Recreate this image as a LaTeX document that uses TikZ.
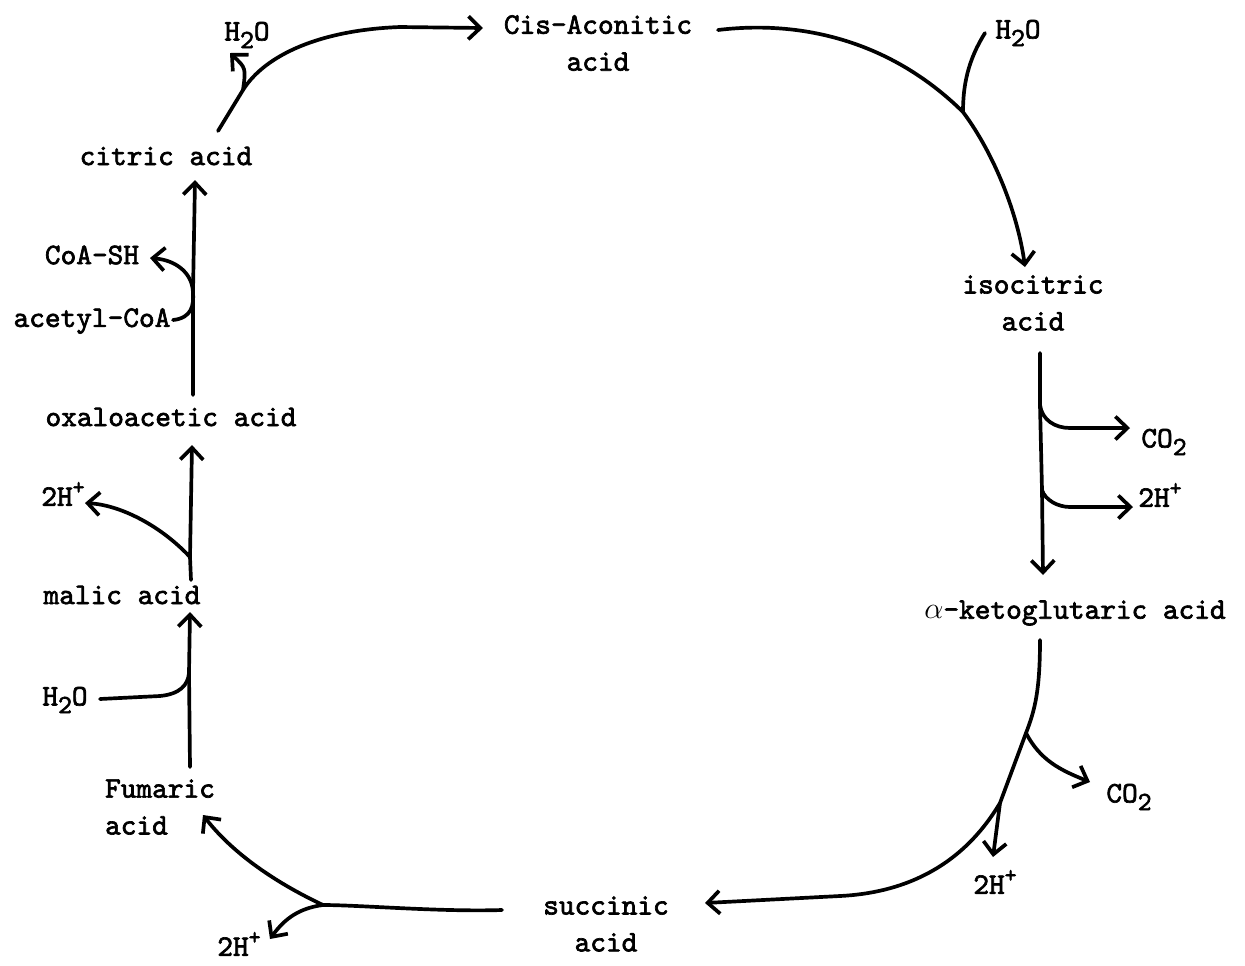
\documentclass[tikz,border=0pt]{standalone}
\usepackage{fontspec}
\usepackage{tikz}
\usetikzlibrary{arrows.meta,calc}
\newfontfamily\chemtt{lmmono10-regular.otf}[FakeBold=2.2]
\newcommand{\chemfont}{\fontsize{17}{21}\selectfont\chemtt}
\newcommand{\lowtwo}{\raisebox{-0.6ex}{\fontsize{15}{15}\selectfont 2}}
\newcommand{\hiplus}{\raisebox{0.9ex}{\fontsize{13}{13}\selectfont +}}

\begin{document}
\begin{tikzpicture}[
    x=0.02cm, y=-0.02cm,
    metab/.style={font=\chemfont, align=center, inner sep=1pt},
    sidemol/.style={font=\chemfont, inner sep=1pt},
    flow/.style={line width=2.1pt, line cap=round, -{Straight Barb[length=2.4mm,width=4.6mm]}},
    joinline/.style={line width=2.1pt, line cap=round}
]
\useasboundingbox (0,0) rectangle (1245,965);
% metabolites
\node[metab] (cis) at (598,43) {Cis-Aconitic\\acid};
\node[metab] (citric) at (166,156) {citric acid};
\node[metab] (iso) at (1033,303) {isocitric\\acid};
\node[metab] (keto) at (1075,613) {$\alpha$-ketoglutaric acid};
\node[metab] (succ) at (606,924) {succinic\\acid};
\node[metab, align=left] (fum) at (160,807) {Fumaric\\acid};
\node[metab] (malic) at (122,595) {malic acid};
\node[metab] (oxalo) at (171,417) {oxaloacetic acid};
% side molecules
\node[sidemol] (wat1) at (247,35) {H\lowtwo O};
\node[sidemol] (wat2) at (1018,33) {H\lowtwo O};
\node[sidemol] (co2a) at (1164,442) {CO\lowtwo};
\node[sidemol] (hpa) at (1160,495) {2H\hiplus};
\node[sidemol] (co2b) at (1129,797) {CO\lowtwo};
\node[sidemol] (hpb) at (995,882) {2H\hiplus};
\node[sidemol] (hpc) at (239,944) {2H\hiplus};
\node[sidemol] (wat3) at (65,700) {H\lowtwo O};
\node[sidemol] (hpd) at (63,494) {2H\hiplus};
\node[sidemol] (coash) at (92,255) {CoA-SH};
\node[sidemol] (acetyl) at (92,321) {acetyl-CoA};
% branch points
\coordinate (j1) at (243,90);
\coordinate (j2) at (963,112);
\coordinate (j3) at (1040,405);
\coordinate (j4) at (1042,490);
\coordinate (j5) at (1026,733);
\coordinate (j6) at (1000,803);
\coordinate (j7) at (323,905);
\coordinate (j8) at (189,673);
\coordinate (j9) at (190,557);
\coordinate (j10) at (193,292);
% citric -> cis-aconitic
\draw[flow] ($(citric)+(52,-25)$) .. controls (230,110) .. (j1) .. controls (265,55) and (320,30) .. (400,27) -- ($(cis)+(-115,-15)$);
\draw[flow] (j1) .. controls (246,68) .. ($(wat1)+(-17,18)$);
% cis-aconitic -> isocitric
\draw[flow] ($(cis)+(120,-13)$) .. controls (800,20) and (890,40) .. (j2) .. controls (995,155) and (1018,215) .. ($(iso)+(-8,-36)$);
\draw[joinline] ($(wat2)+(-33,0)$) .. controls (968,60) and (963,85) .. (j2);
% isocitric -> alpha-ketoglutaric
\draw[flow] ($(iso)+(7,50)$) -- (j3) -- (j4) -- ($(keto)+(-32,-38)$);
\draw[flow] (j3) .. controls (1042,420) and (1055,428) .. (1070,428) -- ($(co2a)+(-34,-14)$);
\draw[flow] (j4) .. controls (1045,500) and (1058,507) .. (1070,507) -- ($(hpa)+(-27,12)$);
% alpha-ketoglutaric -> succinic
\draw[flow] ($(keto)+(-35,27)$) .. controls (1040,690) and (1035,710) .. (j5) -- (j6) .. controls (960,870) and (900,893) .. (840,896) -- ($(succ)+(99,-21)$);
\draw[flow] (j5) .. controls (1040,760) and (1060,770) .. ($(co2b)+(-39,-15)$);
\draw[flow] (j6) -- ($(hpb)+(-2,-25)$);
% succinic -> fumaric
\draw[flow] ($(succ)+(-104,-14)$) .. controls (440,912) and (360,905) .. (j7) .. controls (270,880) and (230,850) .. ($(fum)+(43,8)$);
\draw[flow] (j7) .. controls (300,908) and (285,918) .. ($(hpc)+(31,-5)$);
% fumaric -> malic
\draw[flow] ($(fum)+(30,-40)$) -- (j8) -- ($(malic)+(68,17)$);
\draw[joinline] ($(wat3)+(35,-1)$) -- (160,696) .. controls (180,694) and (188,685) .. (j8);
% malic -> oxaloacetic
\draw[flow] ($(malic)+(69,-15)$) -- (j9) -- ($(oxalo)+(21,28)$);
\draw[flow] (j9) .. controls (160,525) and (120,505) .. ($(hpd)+(22,9)$);
% oxaloacetic -> citric
\draw[flow] ($(oxalo)+(22,-22)$) -- (j10) -- ($(citric)+(29,24)$);
\draw[flow] ($(acetyl)+(81,-1)$) .. controls (192,318) and (194,305) .. (j10) .. controls (192,272) and (175,260) .. ($(coash)+(58,3)$);
\end{tikzpicture}
\end{document}
